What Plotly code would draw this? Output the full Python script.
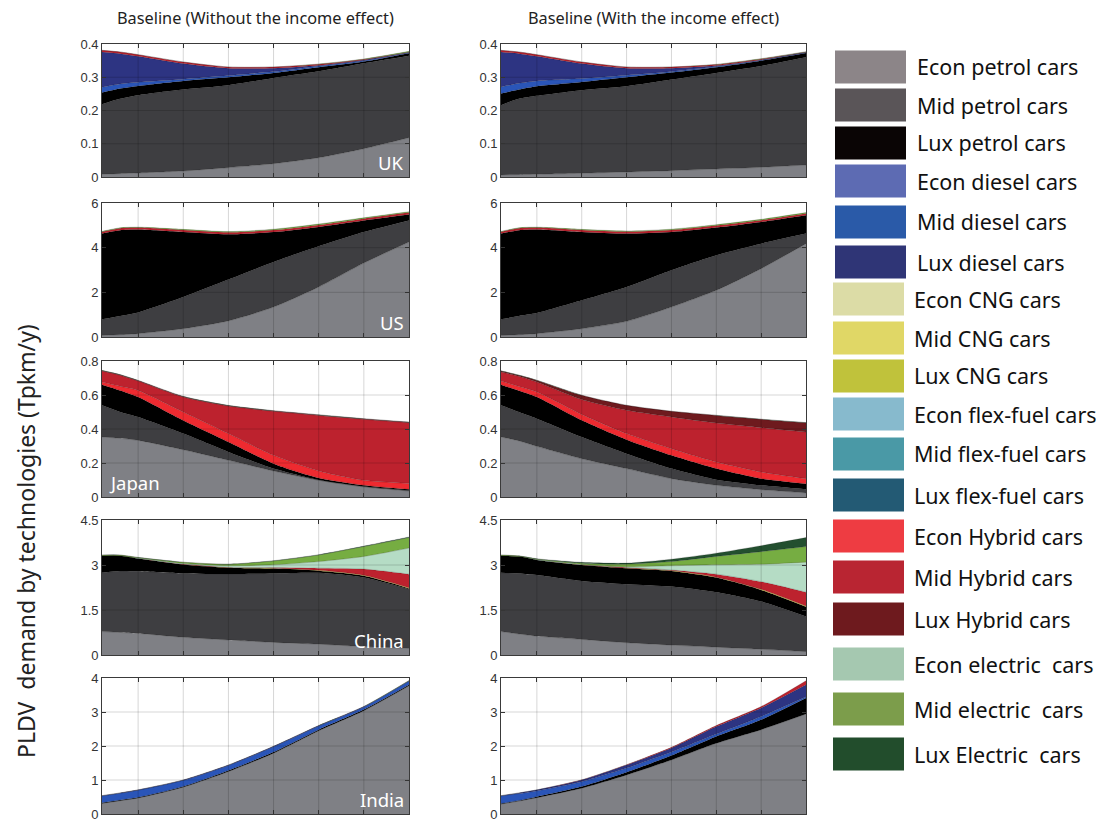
import plotly.graph_objects as go

# ---------------- data ----------------
YEARS = [2011, 2013, 2015, 2020, 2025, 2030, 2035, 2040, 2045]

TECHS = ["Econ petrol cars", "Mid petrol cars", "Lux petrol cars",
         "Econ diesel cars", "Mid diesel cars", "Lux diesel cars",
         "Econ CNG cars", "Mid CNG cars", "Lux CNG cars",
         "Econ flex-fuel cars", "Mid flex-fuel cars", "Lux flex-fuel cars",
         "Econ Hybrid cars", "Mid Hybrid cars", "Lux Hybrid cars",
         "Econ electric\u00a0 cars", "Mid electric\u00a0 cars", "Lux Electric\u00a0 cars"]

# layer thickness (Tpkm/y), stacked bottom -> top in TECHS order
UK_WITHOUT = {
    "Econ petrol cars": [0.008, 0.010, 0.012, 0.018, 0.028, 0.040, 0.058, 0.085, 0.118],
    "Mid petrol cars":  [0.211, 0.225, 0.234, 0.245, 0.248, 0.258, 0.260, 0.257, 0.247],
    "Lux petrol cars":  [0.035, 0.031, 0.028, 0.026, 0.024, 0.015, 0.012, 0.005, 0.007],
    "Mid diesel cars":  [0.016, 0.014, 0.011, 0.005, 0.005, 0.004, 0.004, 0.003, 0.002],
    "Lux diesel cars":  [0.106, 0.091, 0.078, 0.047, 0.022, 0.010, 0.002, 0.002, 0.001],
    "Mid Hybrid cars":  [0.005, 0.005, 0.005, 0.005, 0.004, 0.004, 0.003, 0.002, 0.001],
    "Mid electric\u00a0 cars": [0, 0, 0, 0, 0, 0, 0.001, 0.001, 0.002],
}
UK_WITH = {
    "Econ petrol cars": [0.006, 0.007, 0.008, 0.011, 0.015, 0.019, 0.024, 0.029, 0.036],
    "Mid petrol cars":  [0.210, 0.228, 0.236, 0.250, 0.258, 0.274, 0.289, 0.305, 0.324],
    "Lux petrol cars":  [0.035, 0.028, 0.029, 0.025, 0.027, 0.021, 0.017, 0.016, 0.013],
    "Mid diesel cars":  [0.020, 0.019, 0.016, 0.010, 0.006, 0.003, 0.002, 0.001, 0.001],
    "Lux diesel cars":  [0.105, 0.089, 0.074, 0.045, 0.021, 0.010, 0.003, 0.002, 0.001],
    "Mid Hybrid cars":  [0.005, 0.005, 0.005, 0.005, 0.004, 0.004, 0.003, 0.002, 0.001],
    "Mid electric\u00a0 cars": [0, 0, 0, 0, 0, 0, 0.001, 0.001, 0.001],
}
US_WITHOUT = {
    "Econ petrol cars": [0.07, 0.10, 0.15, 0.37, 0.72, 1.34, 2.24, 3.31, 4.25],
    "Mid petrol cars":  [0.72, 0.84, 0.95, 1.42, 1.85, 2.02, 1.82, 1.39, 0.97],
    "Lux petrol cars":  [3.84, 3.84, 3.71, 2.91, 2.03, 1.34, 0.87, 0.52, 0.27],
    "Mid Hybrid cars":  [0.08, 0.09, 0.09, 0.09, 0.09, 0.09, 0.09, 0.08, 0.08],
    "Mid electric\u00a0 cars": [0.02, 0.02, 0.02, 0.03, 0.03, 0.04, 0.04, 0.04, 0.04],
}
US_WITH = {
    "Econ petrol cars": [0.07, 0.10, 0.15, 0.37, 0.70, 1.34, 2.09, 3.06, 4.18],
    "Mid petrol cars":  [0.72, 0.84, 0.92, 1.27, 1.54, 1.65, 1.57, 1.12, 0.45],
    "Lux petrol cars":  [3.84, 3.84, 3.74, 3.06, 2.39, 1.71, 1.24, 0.97, 0.82],
    "Mid Hybrid cars":  [0.08, 0.09, 0.09, 0.09, 0.09, 0.09, 0.09, 0.08, 0.08],
    "Mid electric\u00a0 cars": [0.02, 0.02, 0.02, 0.03, 0.03, 0.04, 0.04, 0.04, 0.04],
}
JAPAN_WITHOUT = {
    "Econ petrol cars": [0.353, 0.345, 0.333, 0.278, 0.216, 0.153, 0.098, 0.059, 0.035],
    "Mid petrol cars":  [0.186, 0.155, 0.137, 0.095, 0.049, 0.014, 0.002, 0.003, 0.005],
    "Lux petrol cars":  [0.122, 0.127, 0.118, 0.077, 0.059, 0.029, 0.012, 0.007, 0.005],
    "Econ Hybrid cars": [0.015, 0.024, 0.039, 0.050, 0.049, 0.049, 0.041, 0.029, 0.035],
    "Mid Hybrid cars":  [0.065, 0.065, 0.055, 0.088, 0.162, 0.259, 0.327, 0.359, 0.357],
    "Lux Hybrid cars":  [0.003, 0.003, 0.003, 0.003, 0.003, 0.003, 0.003, 0.003, 0.003],
    "Lux Electric\u00a0 cars": [0.001, 0.001, 0.001, 0.001, 0.001, 0.001, 0.001, 0.001, 0.001],
}
JAPAN_WITH = {
    "Econ petrol cars": [0.353, 0.330, 0.298, 0.225, 0.167, 0.108, 0.069, 0.043, 0.024],
    "Mid petrol cars":  [0.186, 0.170, 0.163, 0.128, 0.088, 0.059, 0.033, 0.026, 0.021],
    "Lux petrol cars":  [0.122, 0.125, 0.127, 0.098, 0.082, 0.078, 0.065, 0.039, 0.033],
    "Econ Hybrid cars": [0.021, 0.025, 0.030, 0.035, 0.036, 0.039, 0.039, 0.039, 0.030],
    "Mid Hybrid cars":  [0.053, 0.060, 0.058, 0.087, 0.137, 0.187, 0.229, 0.261, 0.274],
    "Lux Hybrid cars":  [0.006, 0.006, 0.010, 0.025, 0.029, 0.033, 0.045, 0.049, 0.055],
    "Lux Electric\u00a0 cars": [0.001, 0.001, 0.001, 0.001, 0.001, 0.001, 0.001, 0.001, 0.001],
}
CHINA_WITHOUT = {
    "Econ petrol cars": [0.78, 0.75, 0.72, 0.59, 0.50, 0.42, 0.36, 0.28, 0.22],
    "Mid petrol cars":  [1.96, 2.05, 2.07, 2.13, 2.20, 2.30, 2.38, 2.30, 1.97],
    "Lux petrol cars":  [0.57, 0.51, 0.43, 0.30, 0.21, 0.16, 0.07, 0.06, 0.03],
    "Mid CNG cars":     [0, 0, 0, 0, 0.01, 0.015, 0.015, 0.02, 0.02],
    "Mid Hybrid cars":  [0, 0, 0, 0.01, 0.005, 0.02, 0.07, 0.205, 0.455],
    "Econ electric\u00a0 cars": [0, 0, 0.01, 0.02, 0.05, 0.09, 0.22, 0.42, 0.87],
    "Mid electric\u00a0 cars":  [0.02, 0.02, 0.02, 0.04, 0.05, 0.13, 0.22, 0.33, 0.35],
    "Lux Electric\u00a0 cars":  [0.005, 0.005, 0.005, 0.005, 0.005, 0.01, 0.01, 0.015, 0.02],
}
CHINA_WITH = {
    "Econ petrol cars": [0.78, 0.70, 0.63, 0.52, 0.41, 0.33, 0.26, 0.19, 0.11],
    "Mid petrol cars":  [1.96, 2.02, 2.04, 1.95, 1.95, 1.95, 1.83, 1.59, 1.17],
    "Lux petrol cars":  [0.57, 0.56, 0.50, 0.53, 0.53, 0.52, 0.49, 0.39, 0.33],
    "Mid CNG cars":     [0, 0, 0, 0, 0.01, 0.015, 0.015, 0.02, 0.02],
    "Mid Hybrid cars":  [0, 0, 0, 0.005, 0.02, 0.02, 0.10, 0.255, 0.465],
    "Econ electric\u00a0 cars": [0, 0, 0.01, 0.015, 0.025, 0.14, 0.31, 0.58, 1.00],
    "Mid electric\u00a0 cars":  [0.02, 0.02, 0.02, 0.04, 0.08, 0.14, 0.28, 0.42, 0.52],
    "Lux Electric\u00a0 cars":  [0.005, 0.005, 0.01, 0.03, 0.04, 0.08, 0.11, 0.20, 0.30],
}
INDIA_WITHOUT = {
    "Econ petrol cars": [0.31, 0.39, 0.47, 0.79, 1.25, 1.79, 2.45, 3.04, 3.77],
    "Lux petrol cars":  [0.02, 0.02, 0.02, 0.02, 0.03, 0.03, 0.03, 0.03, 0.03],
    "Mid diesel cars":  [0.20, 0.20, 0.21, 0.18, 0.15, 0.16, 0.11, 0.08, 0.11],
    "Lux diesel cars":  [0.01, 0.01, 0.01, 0.01, 0.01, 0.01, 0.01, 0.01, 0.01],
    "Mid electric\u00a0 cars": [0, 0, 0, 0, 0, 0, 0.002, 0.004, 0.006],
}
INDIA_WITH = {
    "Econ petrol cars": [0.29, 0.38, 0.48, 0.76, 1.15, 1.59, 2.08, 2.48, 2.94],
    "Lux petrol cars":  [0.02, 0.02, 0.03, 0.05, 0.08, 0.13, 0.20, 0.29, 0.47],
    "Mid diesel cars":  [0.22, 0.20, 0.17, 0.14, 0.12, 0.10, 0.07, 0.10, 0.04],
    "Lux diesel cars":  [0.01, 0.02, 0.03, 0.05, 0.09, 0.12, 0.22, 0.25, 0.35],
    "Mid Hybrid cars":  [0, 0, 0, 0.005, 0.01, 0.02, 0.03, 0.04, 0.12],
}

REGIONS = ["UK", "US", "Japan", "China", "India"]
PANELS = [[UK_WITHOUT, UK_WITH], [US_WITHOUT, US_WITH], [JAPAN_WITHOUT, JAPAN_WITH],
          [CHINA_WITHOUT, CHINA_WITH], [INDIA_WITHOUT, INDIA_WITH]]
Y_TICKS = [[0, 0.1, 0.2, 0.3, 0.4], [0, 2, 4, 6], [0, 0.2, 0.4, 0.6, 0.8],
           [0, 1.5, 3, 4.5], [0, 1, 2, 3, 4]]
Y_TICK_TEXT = [["0", "0.1", "0.2", "0.3", "0.4"], ["0", "2", "4", "6"],
               ["0", "0.2", "0.4", "0.6", "0.8"], ["0", "1.5", "3", "4.5"],
               ["0", "1", "2", "3", "4"]]
X_TICKS = [2015, 2020, 2025, 2030, 2035, 2040]
COL_TITLES = ["Baseline (Without the income effect)", "Baseline (With the income effect)"]
Y_TITLE = "PLDV\u00a0 demand by technologies (Tpkm/y)"

# ---------------- styles ----------------
AREA_COLORS = ["#7f8085", "#3e3e41", "#000000",
               "#5d6bb3", "#2a55b8", "#2d3482",
               "#dcdca6", "#e6cf45", "#c0c23b",
               "#87bacd", "#4a99a6", "#235a74",
               "#ee2a30", "#bd222e", "#6e1a1e",
               "#b5dcc5", "#76ad42", "#234f2f"]
LEGEND_COLORS = ["#8c8588", "#5a5558", "#0a0505",
                 "#5d6bb3", "#2a5aa8", "#2f3576",
                 "#dcdca6", "#e0d766", "#c0c23b",
                 "#87bacd", "#4a99a6", "#235a74",
                 "#ee3c42", "#b92532", "#6e1a1e",
                 "#a5c8b0", "#7c9d4b", "#224d2c"]

W, H = 1104, 819
OX, OY = 8, 8          # page offset of the plot div (body margin)
COLS = [(102, 409), (501, 806)]
ROWS = [(44, 177), (203, 337), (361, 497), (520, 655), (678, 814)]
LEGEND_CENTERS = [67, 105, 143, 181, 222, 262, 299, 338, 376, 414, 454, 495,
                  536, 577, 619, 664, 709, 754]
LABEL_POS = {"UK": "right", "US": "right", "Japan": "left", "China": "right", "India": "right"}

FONT_MY = "Noto Sans"
FONT_TICK = "Liberation Sans"
AXIS_COL = "#3a3a3a"


def px(xp):
    return (xp - OX) / W


def py(yp):
    return 1 - (yp - OY) / H


fig = go.Figure()
shapes = []
annotations = []

for r in range(5):
    for c in range(2):
        idx = r * 2 + c + 1
        sfx = "" if idx == 1 else str(idx)
        xa, ya = "x" + sfx, "y" + sfx
        panel = PANELS[r][c]
        for ti, tech in enumerate(TECHS):
            if tech not in panel:
                continue
            col = AREA_COLORS[ti]
            fig.add_trace(go.Scatter(
                x=YEARS, y=panel[tech], stackgroup="s%d" % idx, mode="lines",
                line=dict(color="rgba(0,0,0,0.35)", width=0.5, shape="spline", smoothing=0.7),
                fillcolor=col, xaxis=xa, yaxis=ya, showlegend=False,
                hoverinfo="skip", name=tech))
        x0, x1 = COLS[c]
        y0, y1 = ROWS[r]
        ymax = Y_TICKS[r][-1]
        fig.layout["xaxis" + sfx] = dict(
            domain=[px(x0), px(x1)], anchor=ya, range=[2011, 2045],
            tickvals=X_TICKS, showticklabels=False, ticks="inside", ticklen=4,
            tickcolor=AXIS_COL, tickwidth=0.8, showline=True, linecolor=AXIS_COL,
            linewidth=0.8, mirror="ticks", showgrid=False, zeroline=False,
            layer="above traces", fixedrange=True, automargin=False)
        fig.layout["yaxis" + sfx] = dict(
            domain=[py(y1), py(y0)], anchor=xa, range=[0, ymax],
            tickvals=Y_TICKS[r], ticktext=Y_TICK_TEXT[r], ticks="inside", ticklen=4,
            tickcolor=AXIS_COL, tickwidth=0.8, showline=True, linecolor=AXIS_COL,
            linewidth=0.8, mirror="ticks", showgrid=False, zeroline=False,
            layer="above traces", fixedrange=True, automargin=False,
            tickfont=dict(family=FONT_TICK, size=13, color="#333333"))
        # grid lines drawn over the areas (MATLAB style)
        for xv in X_TICKS:
            shapes.append(dict(type="line", xref=xa, yref=ya + " domain", x0=xv, x1=xv,
                               y0=0, y1=1, layer="above",
                               line=dict(color="rgba(0,0,0,0.16)", width=1)))
        for yv in Y_TICKS[r][1:-1]:
            shapes.append(dict(type="line", xref=xa + " domain", yref=ya, x0=0, x1=1,
                               y0=yv, y1=yv, layer="above",
                               line=dict(color="rgba(0,0,0,0.16)", width=1)))
        if c == 0:
            reg = REGIONS[r]
            right = LABEL_POS[reg] == "right"
            annotations.append(dict(
                text=reg, xref=xa + " domain", yref=ya + " domain",
                x=0.99 if right else 0.015, y=0.0, xanchor="right" if right else "left",
                yanchor="bottom", showarrow=False,
                font=dict(family=FONT_MY, size=18.5, color="white")))

for c in range(2):
    annotations.append(dict(
        text=COL_TITLES[c], xref="paper", yref="paper",
        x=px((COLS[c][0] + COLS[c][1]) / 2), y=py(18), xanchor="center",
        yanchor="middle", showarrow=False,
        font=dict(family=FONT_MY, size=16.3, color="#222222")))

annotations.append(dict(
    text=Y_TITLE, xref="paper", yref="paper", x=px(26), y=py(541),
    xanchor="center", yanchor="middle", textangle=-90, showarrow=False,
    font=dict(family=FONT_MY, size=23, color="#222222")))

# custom legend
for i, tech in enumerate(TECHS):
    cy = LEGEND_CENTERS[i]
    bx0 = 835 if i < 6 else 833
    shapes.append(dict(type="rect", xref="paper", yref="paper",
                       x0=px(bx0), x1=px(bx0 + 71),
                       y0=py(cy + 16.5), y1=py(cy - 16.5),
                       fillcolor=LEGEND_COLORS[i], line=dict(width=0), layer="above"))
    annotations.append(dict(
        text=tech, xref="paper", yref="paper", x=px(915 if i < 6 else 912),
        y=py(cy), xanchor="left", yanchor="middle", showarrow=False,
        font=dict(family=FONT_MY, size=21.5, color="#111111")))

fig.update_layout(
    width=W, height=H, margin=dict(l=0, r=0, t=0, b=0, autoexpand=False),
    paper_bgcolor="white", plot_bgcolor="white",
    shapes=shapes, annotations=annotations, showlegend=False)

fig.write_html("out.html")
